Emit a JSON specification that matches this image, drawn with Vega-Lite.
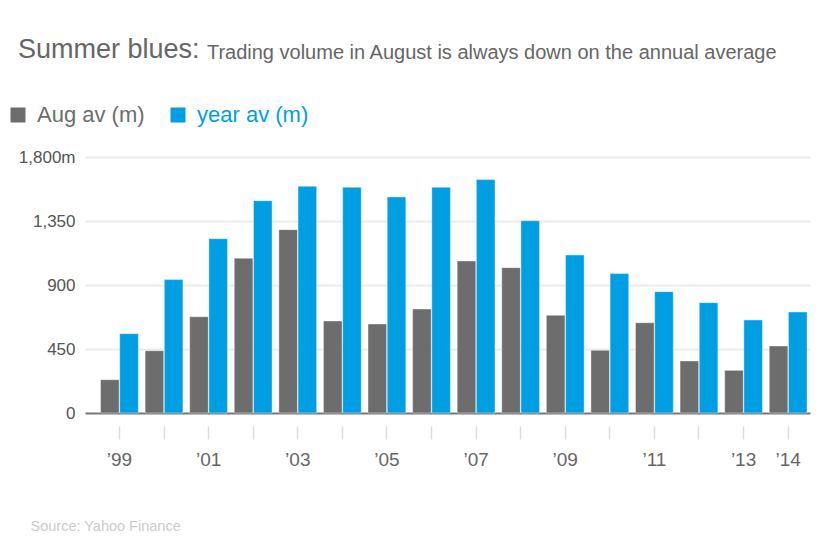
{
  "$schema": "https://vega.github.io/schema/vega-lite/v6.json",
  "autosize": {"type": "none"},
  "padding": {"left": 85, "top": 157, "right": 29, "bottom": 143},
  "width": 725,
  "height": 256,
  "background": "white",
  "title": {
    "text": "Summer blues:",
    "subtitle": "\u200b\u00a0\u00a0\u00a0\u00a0\u00a0\u00a0\u00a0\u00a0\u00a0\u00a0\u00a0\u00a0\u00a0\u00a0\u00a0\u00a0\u00a0\u00a0\u00a0\u00a0\u00a0\u00a0\u00a0\u00a0\u00a0\u00a0\u00a0\u00a0\u00a0\u00a0\u00a0\u00a0\u00a0\u00a0Trading volume in August is always down on the annual average",
    "frame": "group",
    "anchor": "start",
    "dx": -67,
    "offset": 40,
    "fontSize": 27,
    "fontWeight": "normal",
    "color": "#666666",
    "subtitleFontSize": 20,
    "subtitleColor": "#666666",
    "subtitlePadding": -21.5
  },
  "data": {
    "values": [
      {"year": "1999", "series": "Aug av (m)", "value": 234},
      {"year": "1999", "series": "year av (m)", "value": 558},
      {"year": "2000", "series": "Aug av (m)", "value": 438},
      {"year": "2000", "series": "year av (m)", "value": 938},
      {"year": "2001", "series": "Aug av (m)", "value": 677},
      {"year": "2001", "series": "year av (m)", "value": 1226},
      {"year": "2002", "series": "Aug av (m)", "value": 1088},
      {"year": "2002", "series": "year av (m)", "value": 1493},
      {"year": "2003", "series": "Aug av (m)", "value": 1289},
      {"year": "2003", "series": "year av (m)", "value": 1594},
      {"year": "2004", "series": "Aug av (m)", "value": 647},
      {"year": "2004", "series": "year av (m)", "value": 1587},
      {"year": "2005", "series": "Aug av (m)", "value": 626},
      {"year": "2005", "series": "year av (m)", "value": 1519},
      {"year": "2006", "series": "Aug av (m)", "value": 731},
      {"year": "2006", "series": "year av (m)", "value": 1587},
      {"year": "2007", "series": "Aug av (m)", "value": 1069},
      {"year": "2007", "series": "year av (m)", "value": 1641},
      {"year": "2008", "series": "Aug av (m)", "value": 1022},
      {"year": "2008", "series": "year av (m)", "value": 1352},
      {"year": "2009", "series": "Aug av (m)", "value": 687},
      {"year": "2009", "series": "year av (m)", "value": 1111},
      {"year": "2010", "series": "Aug av (m)", "value": 441},
      {"year": "2010", "series": "year av (m)", "value": 980},
      {"year": "2011", "series": "Aug av (m)", "value": 635},
      {"year": "2011", "series": "year av (m)", "value": 853},
      {"year": "2012", "series": "Aug av (m)", "value": 366},
      {"year": "2012", "series": "year av (m)", "value": 776},
      {"year": "2013", "series": "Aug av (m)", "value": 300},
      {"year": "2013", "series": "year av (m)", "value": 654},
      {"year": "2014", "series": "Aug av (m)", "value": 471},
      {"year": "2014", "series": "year av (m)", "value": 710}
    ]
  },
  "mark": {"type": "bar", "stroke": "white", "strokeWidth": 0.8, "strokeOpacity": 0.5},
  "encoding": {
    "x": {
      "field": "year",
      "type": "ordinal",
      "scale": {"paddingInner": 0.152, "paddingOuter": 0.2075, "align": 0.84},
      "axis": {
        "title": "Source: Yahoo Finance",
        "titleAnchor": "start",
        "titleX": -55,
        "titleY": 104,
        "titleBaseline": "alphabetic",
        "titleFontSize": 14.5,
        "titleFontWeight": "normal",
        "titleColor": "#cccccc",
        "domain": false,
        "offset": 13,
        "tickSize": 13,
        "tickColor": "#dddddd",
        "tickWidth": 1.5,
        "labelAngle": 0,
        "labelFontSize": 19,
        "labelColor": "#666666",
        "labelPadding": 11,
        "labelExpr": "(toNumber(datum.value) % 2 == 1 || datum.value == '2014') ? '\u2019' + substring(datum.value, 2, 4) : ''"
      }
    },
    "xOffset": {"field": "series", "scale": {"paddingInner": 0.03}},
    "y": {
      "field": "value",
      "type": "quantitative",
      "scale": {"domain": [0, 1800], "nice": false},
      "axis": {
        "title": null,
        "values": [0, 450, 900, 1350, 1800],
        "domain": false,
        "ticks": false,
        "labelPadding": 10,
        "labelFontSize": 17,
        "labelColor": "#555555",
        "labelExpr": "datum.value == 1800 ? '1,800m' : datum.label",
        "gridColor": {"condition": {"test": "datum.value === 0", "value": "#777777"}, "value": "#ececec"},
        "gridWidth": 1.8
      }
    },
    "color": {
      "field": "series",
      "type": "nominal",
      "scale": {"domain": ["Aug av (m)", "year av (m)"], "range": ["#6d6d6d", "#009fe3"]},
      "legend": {
        "title": null,
        "orient": "none",
        "direction": "horizontal",
        "legendX": -78,
        "legendY": -53,
        "symbolType": "square",
        "symbolSize": 225,
        "symbolStrokeWidth": 0,
        "symbolOpacity": 1,
        "labelFontSize": 22,
        "labelOffset": 8,
        "columnPadding": 22,
        "labelLimit": 300,
        "labelColor": {"expr": "datum.value === 'year av (m)' ? '#009fe3' : '#6d6d6d'"}
      }
    }
  },
  "config": {
    "font": "Liberation Sans",
    "view": {"stroke": null}
  }
}
